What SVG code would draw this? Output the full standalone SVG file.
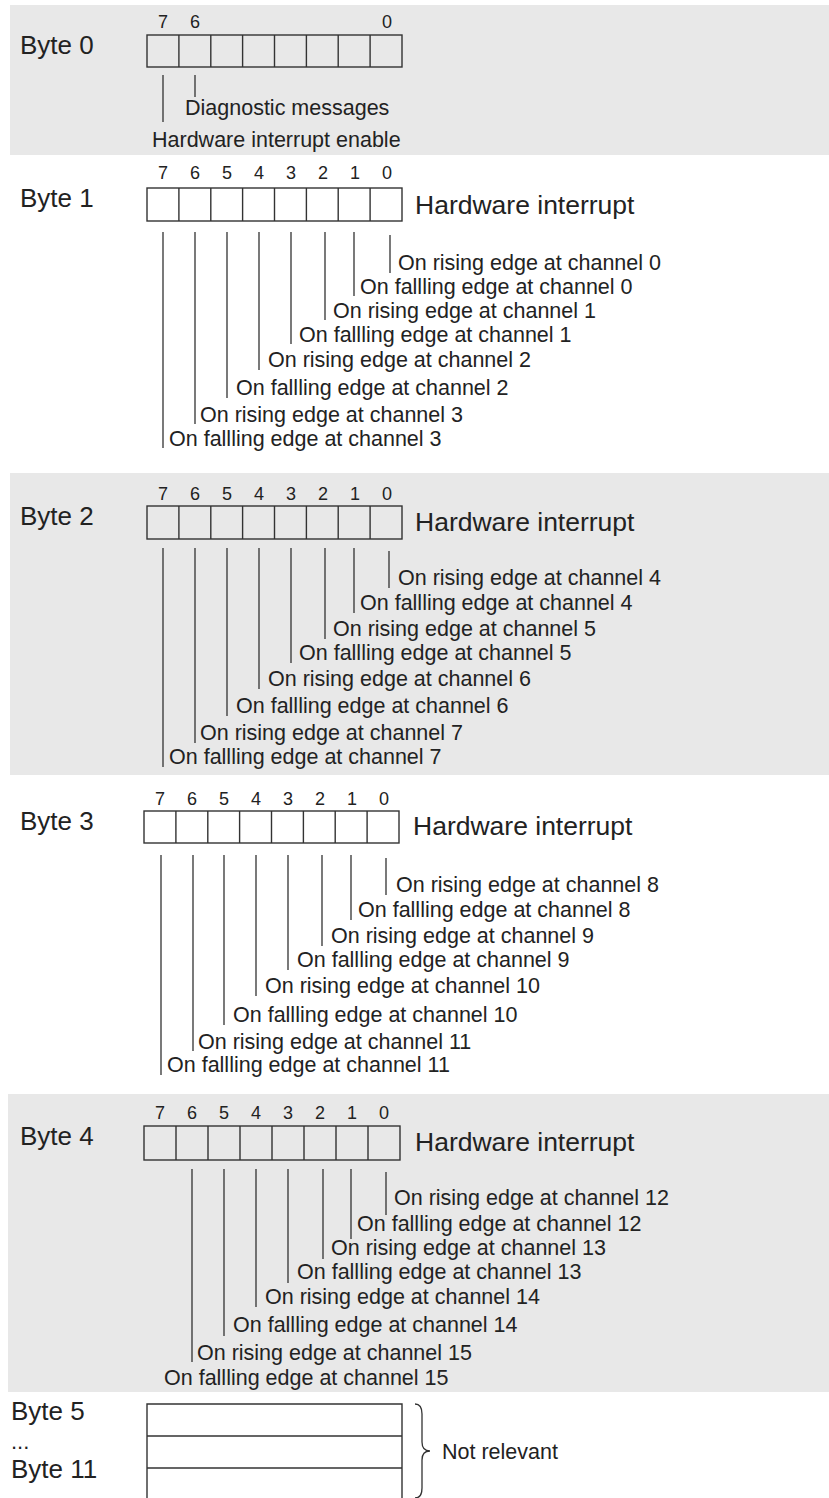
<svg xmlns="http://www.w3.org/2000/svg" width="829" height="1498" viewBox="0 0 829 1498">
<style>
.bg{fill:#e8e8e8;stroke:none}
.box{fill:none;stroke:#333;stroke-width:1.4}
.ln{fill:none;stroke:#333;stroke-width:1.3}
text{font-family:"Liberation Sans",Arial,Helvetica,sans-serif;fill:#222}
.lbl{font-size:26px}
.bit{font-size:18px;text-anchor:middle}
.hw{font-size:26.5px}
.ch{font-size:21.5px}
</style>
<rect class="bg" x="10" y="5" width="819" height="150"/>
<rect class="bg" x="10" y="473" width="819" height="302"/>
<rect class="bg" x="8" y="1094" width="821" height="298"/>

<g id="byte0">
<text class="lbl" x="20" y="54">Byte 0</text>
<text class="bit" x="163" y="28">7</text>
<text class="bit" x="195" y="28">6</text>
<text class="bit" x="387" y="28">0</text>
<rect class="box" x="147" y="35" width="255" height="32"/>
<path class="box" d="M178.9,35V67M210.8,35V67M242.6,35V67M274.5,35V67M306.4,35V67M338.2,35V67M370.1,35V67"/>
<text class="ch" x="185" y="115">Diagnostic messages</text>
<text class="ch" x="152" y="147">Hardware interrupt enable</text>
</g>

<g id="byte1">
<text class="lbl" x="20" y="207">Byte 1</text>
<text class="bit" x="163" y="179">7</text><text class="bit" x="195" y="179">6</text><text class="bit" x="227" y="179">5</text><text class="bit" x="259" y="179">4</text><text class="bit" x="291" y="179">3</text><text class="bit" x="323" y="179">2</text><text class="bit" x="355" y="179">1</text><text class="bit" x="387" y="179">0</text>
<rect class="box" x="147" y="188" width="255" height="33"/>
<path class="box" d="M178.9,188V221M210.8,188V221M242.6,188V221M274.5,188V221M306.4,188V221M338.2,188V221M370.1,188V221"/>
<text class="hw" x="415" y="214">Hardware interrupt</text>
<text class="ch" x="398" y="270">On rising edge at channel 0</text>
<text class="ch" x="360" y="294">On fallling edge at channel 0</text>
<text class="ch" x="333" y="318">On rising edge at channel 1</text>
<text class="ch" x="299" y="342">On fallling edge at channel 1</text>
<text class="ch" x="268" y="367">On rising edge at channel 2</text>
<text class="ch" x="236" y="395">On fallling edge at channel 2</text>
<text class="ch" x="200" y="422">On rising edge at channel 3</text>
<text class="ch" x="169" y="446">On fallling edge at channel 3</text>
</g>

<g id="byte2">
<text class="lbl" x="20" y="525">Byte 2</text>
<text class="bit" x="163" y="500">7</text><text class="bit" x="195" y="500">6</text><text class="bit" x="227" y="500">5</text><text class="bit" x="259" y="500">4</text><text class="bit" x="291" y="500">3</text><text class="bit" x="323" y="500">2</text><text class="bit" x="355" y="500">1</text><text class="bit" x="387" y="500">0</text>
<rect class="box" x="147" y="506" width="255" height="33"/>
<path class="box" d="M178.9,506V539M210.8,506V539M242.6,506V539M274.5,506V539M306.4,506V539M338.2,506V539M370.1,506V539"/>
<text class="hw" x="415" y="531">Hardware interrupt</text>
<text class="ch" x="398" y="585">On rising edge at channel 4</text>
<text class="ch" x="360" y="610">On fallling edge at channel 4</text>
<text class="ch" x="333" y="636">On rising edge at channel 5</text>
<text class="ch" x="299" y="660">On fallling edge at channel 5</text>
<text class="ch" x="268" y="686">On rising edge at channel 6</text>
<text class="ch" x="236" y="713">On fallling edge at channel 6</text>
<text class="ch" x="200" y="740">On rising edge at channel 7</text>
<text class="ch" x="169" y="764">On fallling edge at channel 7</text>
</g>

<g id="byte3">
<text class="lbl" x="20" y="830">Byte 3</text>
<text class="bit" x="160" y="805">7</text><text class="bit" x="192" y="805">6</text><text class="bit" x="224" y="805">5</text><text class="bit" x="256" y="805">4</text><text class="bit" x="288" y="805">3</text><text class="bit" x="320" y="805">2</text><text class="bit" x="352" y="805">1</text><text class="bit" x="384" y="805">0</text>
<rect class="box" x="144" y="811" width="255" height="32"/>
<path class="box" d="M175.9,811V843M207.8,811V843M239.6,811V843M271.5,811V843M303.4,811V843M335.2,811V843M367.1,811V843"/>
<text class="hw" x="413" y="835">Hardware interrupt</text>
<text class="ch" x="396" y="892">On rising edge at channel 8</text>
<text class="ch" x="358" y="917">On fallling edge at channel 8</text>
<text class="ch" x="331" y="943">On rising edge at channel 9</text>
<text class="ch" x="297" y="967">On fallling edge at channel 9</text>
<text class="ch" x="265" y="993">On rising edge at channel 10</text>
<text class="ch" x="233" y="1022">On fallling edge at channel 10</text>
<text class="ch" x="198" y="1049">On rising edge at channel 11</text>
<text class="ch" x="167" y="1072">On fallling edge at channel 11</text>
</g>

<g id="byte4">
<text class="lbl" x="20" y="1145">Byte 4</text>
<text class="bit" x="160" y="1119">7</text><text class="bit" x="192" y="1119">6</text><text class="bit" x="224" y="1119">5</text><text class="bit" x="256" y="1119">4</text><text class="bit" x="288" y="1119">3</text><text class="bit" x="320" y="1119">2</text><text class="bit" x="352" y="1119">1</text><text class="bit" x="384" y="1119">0</text>
<rect class="box" x="144" y="1126" width="256" height="34"/>
<path class="box" d="M176,1126V1160M208,1126V1160M240,1126V1160M272,1126V1160M304,1126V1160M336,1126V1160M368,1126V1160"/>
<text class="hw" x="415" y="1151">Hardware interrupt</text>
<text class="ch" x="394" y="1205">On rising edge at channel 12</text>
<text class="ch" x="357" y="1231">On fallling edge at channel 12</text>
<text class="ch" x="331" y="1255">On rising edge at channel 13</text>
<text class="ch" x="297" y="1279">On fallling edge at channel 13</text>
<text class="ch" x="265" y="1304">On rising edge at channel 14</text>
<text class="ch" x="233" y="1332">On fallling edge at channel 14</text>
<text class="ch" x="197" y="1360">On rising edge at channel 15</text>
<text class="ch" x="164" y="1385">On fallling edge at channel 15</text>
</g>

<g id="byte5-11">
<text class="lbl" x="11" y="1420">Byte 5</text>
<text class="lbl" x="11" y="1449" style="font-size:22px">...</text>
<text class="lbl" x="11" y="1478">Byte 11</text>
<path class="box" d="M147,1498V1404H402V1498M147,1436H402M147,1468H402"/>
<path class="ln" d="M415,1404Q422,1404 422,1414V1442Q422,1451 430,1451Q422,1451 422,1460V1488Q422,1498 415,1498"/>
<text class="ch" x="442" y="1459">Not relevant</text>
</g>

<g id="connectors">
<path class="ln" d="M163,75V122M195,75V97"/>
<path class="ln" d="M390,235V273M354,232V296M325,232V320M291,232V344M259,232V370M227,232V398M195,232V424M163,232V448"/>
<path class="ln" d="M389,551V588M354,548V613M325,548V639M291,548V663M259,548V689M227,548V716M195,548V743M163,548V767"/>
<path class="ln" d="M386,858V895M351,855V920M322,855V946M288,855V970M256,855V996M224,855V1025M193,855V1051M161,855V1075"/>
<path class="ln" d="M386,1172V1215M351,1169V1239M323,1169V1259M288,1169V1283M256,1169V1307M224,1169V1336M192,1169V1362"/>
</g>
</svg>
